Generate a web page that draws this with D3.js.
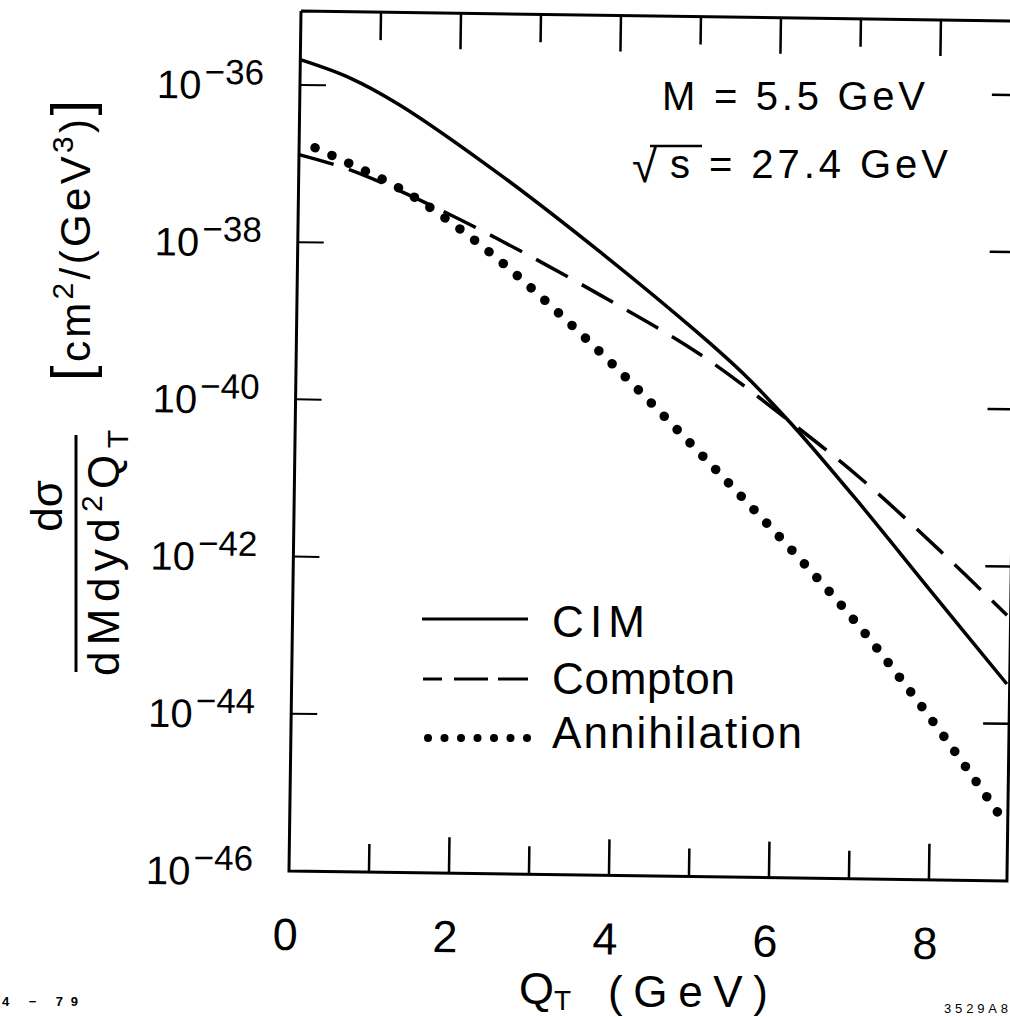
<!DOCTYPE html>
<html>
<head>
<meta charset="utf-8">
<script src="https://cdn.jsdelivr.net/npm/d3@7"></script>
<style>
  body { margin: 0; background: #fff; }
  text { font-family: "Liberation Sans", Arial, sans-serif; fill: #000; }
</style>
</head>
<body>
<div id="container-chart"></div>
<script>
// tick values
let qtLabels = [0, 2, 4, 6, 8];
let qtTicks = [1, 2, 3, 4, 5, 6, 7, 8];
let decadeExps = [-36, -38, -40, -42, -44, -46];

// curves: [Q_T (GeV), dsigma]
let cimCurve = [
  [0.0, 2.1e-36], [0.62, 1.26e-36], [1.25, 5.8e-37], [2.52, 7.8e-38], [3.78, 8.5e-39],
  [5.04, 7.9e-40], [5.6, 2.5e-40], [6.2, 6.0e-41], [7.03, 6.6e-42], [7.96, 4.9e-43],
  [8.94, 3.2e-44]
];
let comptonCurve = [
  [0.0, 1.3e-37], [0.64, 8.5e-38], [1.52, 3.6e-38], [2.53, 1.15e-38], [3.79, 2.4e-39],
  [5.05, 4.4e-40], [6.2, 6.2e-41], [7.07, 1.26e-41], [8.08, 1.55e-42], [8.93, 2.4e-43]
];
let annihilationCurve = [
  [0.2, 1.6e-37], [0.7, 9.5e-38], [1.27, 5.0e-38], [1.77, 2.4e-38], [2.53, 6.3e-39],
  [3.8, 4.5e-40], [5.07, 2.4e-41], [6.33, 1.15e-42], [7.07, 1.7e-43], [7.67, 3.0e-44],
  [8.25, 5.1e-45], [8.94, 5.5e-46]
];
let legendNames = ["CIM", "Compton", "Annihilation"];

drawChart();

function drawChart() {
  vis = this;

  vis.W = 1010;
  vis.H = 1017;
  vis.frame = { LEFT: 301, RIGHT: 1019, TOP: 11, BOTTOM: 871 };

  vis.x = d3.scaleLinear().domain([0, 9]).range([301, 1021]);
  vis.y = d3.scaleLog().domain([1e-46, 1e-36]).range([871, 85]);

  vis.svg = d3.select("#container-chart")
    .append("svg")
    .attr("width", vis.W)
    .attr("height", vis.H);

  // the scanned plot sits slightly tilted
  vis.plot = vis.svg.append("g")
    .attr("transform", `rotate(0.8, ${vis.frame.LEFT}, ${vis.frame.TOP})`);

  //marco
  let f = vis.frame;
  vis.plot.append("path")
    .attr("d", `M${f.LEFT},${f.TOP}H${f.RIGHT + 10}M${f.LEFT},${f.TOP}V${f.BOTTOM}H${f.RIGHT}V${f.TOP}`)
    .attr("fill", "none")
    .attr("stroke", "#000")
    .attr("stroke-width", 3);

  // ticks top and bottom
  let tickLen = q => q % 2 === 0 ? 36 : 28;
  vis.plot.selectAll(".tick-bottom")
    .data(qtTicks)
    .enter()
    .append("line")
    .attr("class", "tick-bottom")
    .attr("x1", d => vis.x(d)).attr("x2", d => vis.x(d))
    .attr("y1", f.BOTTOM).attr("y2", d => f.BOTTOM - tickLen(d))
    .attr("stroke", "#000").attr("stroke-width", 2.5);

  vis.plot.selectAll(".tick-top")
    .data(qtTicks)
    .enter()
    .append("line")
    .attr("class", "tick-top")
    .attr("x1", d => vis.x(d)).attr("x2", d => vis.x(d))
    .attr("y1", f.TOP).attr("y2", d => f.TOP + tickLen(d))
    .attr("stroke", "#000").attr("stroke-width", 2.5);

  // ticks left and right
  let innerDecades = decadeExps.filter(e => e > -46);
  vis.plot.selectAll(".tick-left")
    .data(innerDecades)
    .enter()
    .append("line")
    .attr("x1", f.LEFT).attr("x2", f.LEFT + 26)
    .attr("y1", d => vis.y(Math.pow(10, d))).attr("y2", d => vis.y(Math.pow(10, d)))
    .attr("stroke", "#000").attr("stroke-width", 2);

  vis.plot.selectAll(".tick-right")
    .data(innerDecades)
    .enter()
    .append("line")
    .attr("x1", f.RIGHT).attr("x2", f.RIGHT - 26)
    .attr("y1", d => vis.y(Math.pow(10, d))).attr("y2", d => vis.y(Math.pow(10, d)))
    .attr("stroke", "#000").attr("stroke-width", 2.5);

  // tick labels
  vis.plot.selectAll(".qt-label")
    .data(qtLabels)
    .enter()
    .append("text")
    .attr("x", d => vis.x(d) - 3)
    .attr("y", 950)
    .attr("text-anchor", "middle")
    .style("font-size", "45px")
    .text(d => d);

  let yl = vis.plot.selectAll(".y-label")
    .data(decadeExps)
    .enter()
    .append("text")
    .attr("x", 158)
    .attr("y", d => vis.y(Math.pow(10, d)) + 15)
    .style("font-size", "40px");
  yl.append("tspan").text("10");
  yl.append("tspan")
    .attr("dx", 3)
    .attr("dy", -15)
    .style("font-size", "35px")
    .text(d => "\u2212" + Math.abs(d));

  //curvas
  vis.line = d3.line()
    .x(d => vis.x(d[0]))
    .y(d => vis.y(d[1]))
    .curve(d3.curveCatmullRom.alpha(0.5));

  vis.plot.append("path")
    .datum(cimCurve)
    .attr("d", vis.line)
    .attr("fill", "none")
    .attr("stroke", "#000")
    .attr("stroke-width", 3.5);

  vis.plot.append("path")
    .datum(comptonCurve)
    .attr("d", vis.line)
    .attr("fill", "none")
    .attr("stroke", "#000")
    .attr("stroke-width", 3.5)
    .attr("stroke-dasharray", "36,16");

  // annihilation is a row of dots laid along its curve
  let guide = vis.plot.append("path")
    .datum(annihilationCurve)
    .attr("d", vis.line)
    .attr("fill", "none")
    .attr("stroke", "none");
  let node = guide.node();
  let total = node.getTotalLength();
  let dots = d3.range(0, total + 1, 18.5).map(s => node.getPointAtLength(s));
  vis.plot.selectAll(".dot")
    .data(dots)
    .enter()
    .append("circle")
    .attr("cx", d => d.x)
    .attr("cy", d => d.y)
    .attr("r", 4.8)
    .attr("fill", "#000");

  //leyenda
  let leg = vis.svg.append("g");
  leg.append("line")
    .attr("x1", 422).attr("x2", 528).attr("y1", 619).attr("y2", 619)
    .attr("stroke", "#000").attr("stroke-width", 3);
  leg.append("line")
    .attr("x1", 423).attr("x2", 528).attr("y1", 679).attr("y2", 679)
    .attr("stroke", "#000").attr("stroke-width", 3)
    .attr("stroke-dasharray", "19,12,34,10,30");
  leg.selectAll(".leg-dot")
    .data(d3.range(7))
    .enter()
    .append("circle")
    .attr("cx", i => 428 + i * 16.5)
    .attr("cy", 738)
    .attr("r", 4)
    .attr("fill", "#000");

  let legY = [637, 694, 748];
  let legW = [93, 183, 250];
  leg.selectAll(".leg-text")
    .data(legendNames)
    .enter()
    .append("text")
    .attr("x", 552)
    .attr("y", (d, i) => legY[i])
    .attr("textLength", (d, i) => legW[i])
    .attr("lengthAdjust", "spacing")
    .style("font-size", "44px")
    .text(d => d);

  // parameters
  vis.svg.append("text")
    .attr("x", 662).attr("y", 110)
    .attr("textLength", 263).attr("lengthAdjust", "spacing")
    .style("font-size", "40px")
    .text("M = 5.5 GeV");
  vis.svg.append("text")
    .attr("x", 632).attr("y", 182)
    .style("font-size", "46px")
    .text("\u221A");
  vis.svg.append("line")
    .attr("x1", 650).attr("x2", 702).attr("y1", 146).attr("y2", 146)
    .attr("stroke", "#000").attr("stroke-width", 2.5);
  vis.svg.append("text")
    .attr("x", 670).attr("y", 178)
    .attr("textLength", 278).attr("lengthAdjust", "spacing")
    .style("font-size", "40px")
    .text("s = 27.4 GeV");

  // x title
  let xt = vis.svg.append("text")
    .attr("x", 519).attr("y", 1004)
    .style("font-size", "45px");
  xt.append("tspan").text("Q");
  xt.append("tspan").attr("dy", 6).style("font-size", "28px").text("T");
  vis.svg.append("text")
    .attr("x", 608).attr("y", 1007)
    .attr("textLength", 160).attr("lengthAdjust", "spacing")
    .style("font-size", "44px")
    .text("(GeV)");

  // y title, rotated
  let yt = vis.svg.append("g").attr("transform", "rotate(-90)");
  yt.append("text")
    .attr("x", -506).attr("y", 62)
    .attr("text-anchor", "middle")
    .style("font-size", "44px")
    .text("d\u03C3");
  yt.append("line")
    .attr("x1", -672).attr("x2", -435).attr("y1", 76).attr("y2", 76)
    .attr("stroke", "#000").attr("stroke-width", 3);
  let den = yt.append("text")
    .attr("x", -676).attr("y", 119)
    .attr("textLength", 246).attr("lengthAdjust", "spacing")
    .style("font-size", "44px");
  den.append("tspan").text("dMdyd");
  den.append("tspan").attr("dy", -17).style("font-size", "30px").text("2");
  den.append("tspan").attr("dy", 17).text("Q");
  den.append("tspan").attr("dy", 9).style("font-size", "30px").text("T");

  let unit = yt.append("text")
    .attr("x", -381).attr("y", 90)
    .attr("textLength", 281).attr("lengthAdjust", "spacing")
    .style("font-size", "42px");
  unit.append("tspan").style("font-size", "56px").text("[");
  unit.append("tspan").text("cm");
  unit.append("tspan").attr("dy", -17).style("font-size", "30px").text("2");
  unit.append("tspan").attr("dy", 17).text("/(GeV");
  unit.append("tspan").attr("dy", -17).style("font-size", "30px").text("3");
  unit.append("tspan").attr("dy", 17).text(")");
  unit.append("tspan").style("font-size", "56px").text("]");

  // plate numbers
  vis.svg.append("text")
    .attr("x", 2).attr("y", 1006)
    .attr("textLength", 76).attr("lengthAdjust", "spacing")
    .style("font-size", "13px").style("font-weight", "bold")
    .text("4 \u2212 79");
  vis.svg.append("text")
    .attr("x", 944).attr("y", 1013)
    .attr("textLength", 64).attr("lengthAdjust", "spacing")
    .style("font-size", "13px")
    .text("3529A8");
}
</script>
</body>
</html>
